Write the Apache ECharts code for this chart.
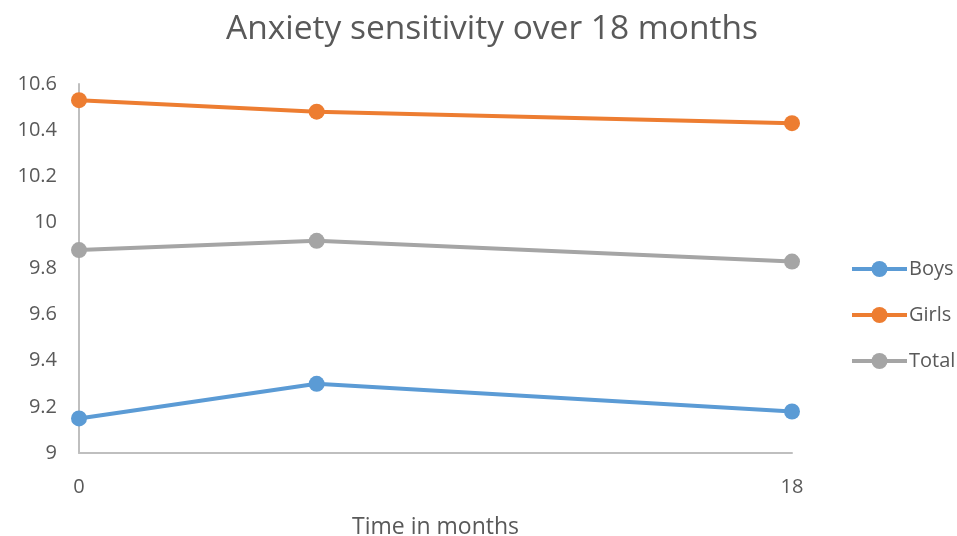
<!doctype html>
<html>
<head>
  <meta charset="utf-8">
  <script src="https://cdn.jsdelivr.net/npm/echarts@6/dist/echarts.min.js"></script>
  <style>
    html, body { margin: 0; padding: 0; background: #fff; }
    #chart { width: 957px; height: 536px; }
  </style>
</head>
<body>
  <div id="chart"></div>
  <script>
    var months = [0, 6, 18];
    var boys = [9.15, 9.30, 9.18];
    var girls = [10.53, 10.48, 10.43];
    var total = [9.88, 9.92, 9.83];
    var seriesNames = ['Boys', 'Girls', 'Total'];
    var colors = ['#5B9BD5', '#ED7D31', '#A5A5A5'];

    function pairs(vals) {
      var out = [];
      for (var i = 0; i < months.length; i++) out.push([months[i], vals[i]]);
      return out;
    }

    var font = '"Open Sans", "Liberation Sans", sans-serif';
    var textColor = '#595959';
    var chart = echarts.init(document.getElementById('chart'));
    var allData = [boys, girls, total];
    var series = [];
    for (var s = 0; s < seriesNames.length; s++) {
      series.push({
        name: seriesNames[s],
        type: 'line',
        data: pairs(allData[s]),
        symbol: 'circle',
        symbolSize: 16,
        lineStyle: { width: 4, color: colors[s] },
        itemStyle: { color: colors[s] }
      });
    }
    chart.setOption({
      animation: false,
      color: colors,
      title: {
        text: 'Anxiety sensitivity over 18 months',
        left: 221,
        top: 7,
        textStyle: { fontFamily: font, fontWeight: 'normal', fontSize: 33.5, color: textColor }
      },
      legend: {
        orient: 'vertical',
        left: 845,
        top: 254,
        itemGap: 26,
        itemWidth: 55,
        itemHeight: 20,
        data: seriesNames,
        lineStyle: { width: 4 },
        textStyle: { fontFamily: font, fontSize: 20, color: textColor, padding: [0, 0, 0, -3] }
      },
      grid: { left: 79, right: 165, top: 84, bottom: 83, outerBoundsMode: 'none' },
      xAxis: {
        type: 'value',
        min: 0,
        max: 18,
        interval: 18,
        name: 'Time in months',
        nameLocation: 'middle',
        nameGap: 63,
        nameTextStyle: { fontFamily: font, fontSize: 23, color: textColor },
        axisLine: { lineStyle: { color: '#BFBFBF', width: 2 } },
        axisTick: { show: false },
        splitLine: { show: false },
        axisLabel: { fontFamily: font, fontSize: 20, color: textColor, margin: 24 }
      },
      yAxis: {
        type: 'value',
        min: 9,
        max: 10.6,
        interval: 0.2,
        axisLine: { show: true, lineStyle: { color: '#BFBFBF', width: 2 } },
        axisTick: { show: false },
        splitLine: { show: false },
        axisLabel: {
          fontFamily: font, fontSize: 20, color: textColor, margin: 22,
          formatter: function (v) { return String(Math.round(v * 10) / 10); }
        }
      },
      series: series
    });
  </script>
</body>
</html>
